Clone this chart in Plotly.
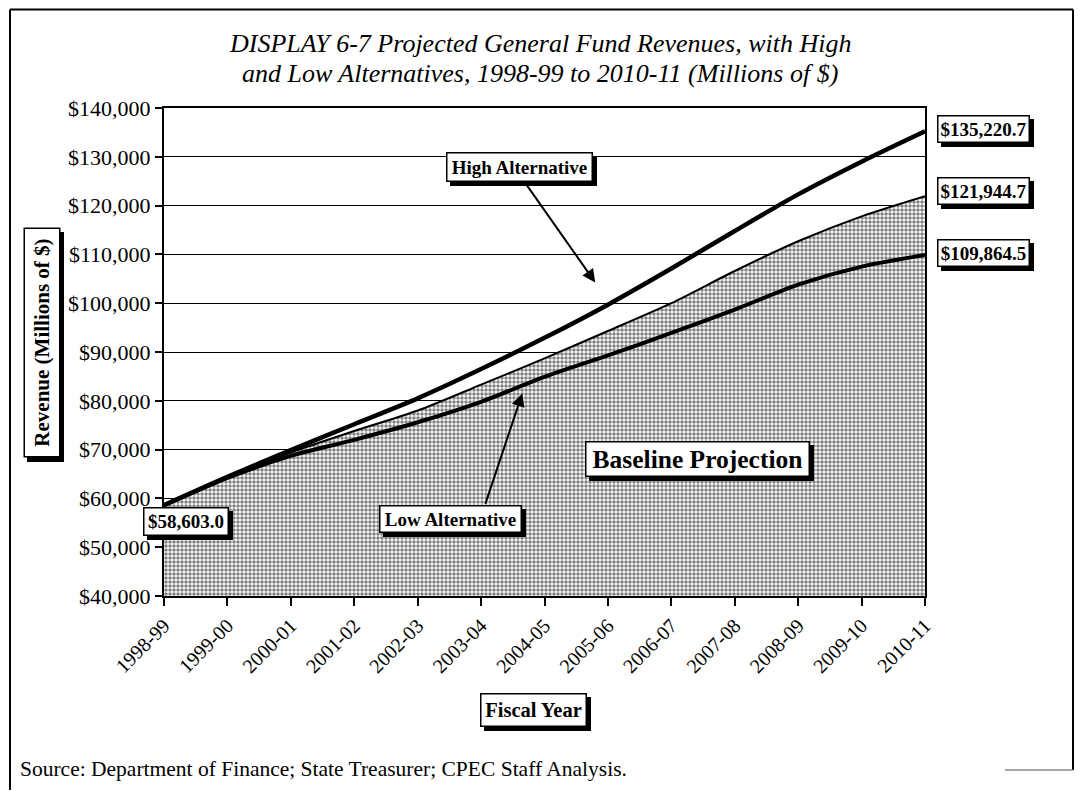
import plotly.graph_objects as go

# ---- data ----
fiscal_years = ["1998-99", "1999-00", "2000-01", "2001-02", "2002-03", "2003-04", "2004-05",
                "2005-06", "2006-07", "2007-08", "2008-09", "2009-10", "2010-11"]
high_alt = [58603.0, 64400, 69900, 75200, 80500, 86500, 92900, 99700, 107100, 114800, 122300, 129000, 135220.7]
baseline = [58603.0, 64300, 69400, 73800, 78000, 83300, 88700, 94300, 100000, 106600, 112700, 117800, 121944.7]
low_alt = [58603.0, 64200, 68700, 72000, 75600, 79800, 84900, 89300, 93900, 98700, 103800, 107500, 109864.5]
y_ticks = [40000, 50000, 60000, 70000, 80000, 90000, 100000, 110000, 120000, 130000, 140000]
y_tick_text = ["$%s" % format(v, ",d") for v in y_ticks]

SERIF = "Liberation Serif, Times New Roman, serif"

# page layout (page pixels); the html body adds an 8px offset
OFF = 8
W, H = 1083, 793
PL, PR, PT, PB = 164, 925, 108, 596   # plot area in page pixels


def px(x):
    return (x - PL) / (PR - PL)


def py(y):
    return 1 - (y - PT) / (PB - PT)


fig = go.Figure()

fig.add_trace(go.Scatter(
    x=fiscal_years, y=baseline, mode="lines", name="Baseline Projection",
    line=dict(color="black", width=2, shape="spline", smoothing=0.8),
    fill="tozeroy", fillcolor="rgba(255,255,255,1)",
    fillpattern=dict(shape=".", fgcolor="#000000", bgcolor="#ffffff", size=4, solidity=0.6),
    showlegend=False))
fig.add_trace(go.Scatter(
    x=fiscal_years, y=high_alt, mode="lines", name="High Alternative",
    line=dict(color="black", width=4.5, shape="spline", smoothing=0.8), showlegend=False))
fig.add_trace(go.Scatter(
    x=fiscal_years, y=low_alt, mode="lines", name="Low Alternative",
    line=dict(color="black", width=4, shape="spline", smoothing=0.8), showlegend=False))

annotations = []
shapes = []


def boxed(text, x0, x1, y0, y1, size, angle=0):
    # shadow
    shapes.append(dict(type="rect", xref="paper", yref="paper",
                       x0=px(x0 + 4), x1=px(x1 + 4), y0=py(y0 + 4), y1=py(y1 + 4),
                       fillcolor="black", line=dict(width=0), layer="above"))
    bw, bh = x1 - x0, y1 - y0
    if angle:
        w, h = bh, bw
    else:
        w, h = bw, bh
    annotations.append(dict(text="<b>%s</b>" % text, x=px((x0 + x1) / 2), y=py((y0 + y1) / 2),
                            xref="paper", yref="paper", showarrow=False, textangle=angle,
                            xanchor="center", yanchor="middle", width=w - 5, height=h - 5,
                            align="center", valign="middle", borderpad=1, borderwidth=1.5,
                            bgcolor="white", bordercolor="black",
                            font=dict(family=SERIF, size=size, color="black")))


# title
annotations.append(dict(text="<i>DISPLAY 6-7 Projected General Fund Revenues, with High</i>",
                        x=px(540), y=py(43), xref="paper", yref="paper", showarrow=False,
                        xanchor="center", yanchor="middle",
                        font=dict(family=SERIF, size=26, color="black")))
annotations.append(dict(text="<i>and Low Alternatives, 1998-99 to 2010-11 (Millions of $)</i>",
                        x=px(540), y=py(74), xref="paper", yref="paper", showarrow=False,
                        xanchor="center", yanchor="middle",
                        font=dict(family=SERIF, size=26, color="black")))

# arrows
annotations.append(dict(x=6.80, y=104260, ax=5.69, ay=124750, xref="x", yref="y", axref="x", ayref="y",
                        text="", showarrow=True, arrowhead=2, arrowsize=1.3, arrowwidth=2, arrowcolor="black"))
annotations.append(dict(x=5.65, y=81520, ax=5.06, ay=58570, xref="x", yref="y", axref="x", ayref="y",
                        text="", showarrow=True, arrowhead=2, arrowsize=1.3, arrowwidth=2, arrowcolor="black"))

boxed("Revenue (Millions of $)", 23, 60, 228, 458, 21, angle=-90)
boxed("Fiscal Year", 480, 587, 693, 727, 20.5)
boxed("$135,220.7", 937, 1030, 115, 143, 19)
boxed("$121,944.7", 937, 1030, 177, 205, 19)
boxed("$109,864.5", 937, 1030, 239, 267, 19)
boxed("$58,603.0", 143, 229, 507, 536, 19)
boxed("High Alternative", 446, 593, 152, 182, 19)
boxed("Low Alternative", 379, 522, 505, 533, 19)
boxed("Baseline Projection", 585, 810, 441, 477, 25.5)

annotations.append(dict(text="Source: Department of Finance; State Treasurer; CPEC Staff Analysis.",
                        x=px(18), y=py(769), xref="paper", yref="paper", showarrow=False,
                        xanchor="left", yanchor="middle",
                        font=dict(family=SERIF, size=21.5, color="black")))

# outer frame
shapes += [
    dict(type="line", xref="paper", yref="paper", x0=px(10), x1=px(1073), y0=py(9.5), y1=py(9.5),
         line=dict(color="black", width=2)),
    dict(type="line", xref="paper", yref="paper", x0=px(10), x1=px(10), y0=py(9.5), y1=py(790),
         line=dict(color="black", width=2)),
    dict(type="line", xref="paper", yref="paper", x0=px(1073), x1=px(1073), y0=py(9.5), y1=py(770),
         line=dict(color="black", width=2)),
    dict(type="line", xref="paper", yref="paper", x0=px(1005), x1=px(1073), y0=py(770), y1=py(770),
         line=dict(color="#888888", width=1.5)),
]

fig.update_layout(
    width=W, height=H,
    margin=dict(l=PL - OFF, r=W - (PR - OFF), t=PT - OFF, b=H - (PB - OFF), pad=0),
    paper_bgcolor="white", plot_bgcolor="white",
    font=dict(family=SERIF, color="black"),
    annotations=annotations, shapes=shapes,
    xaxis=dict(type="category", range=[0, 12], showgrid=False, showline=True, linecolor="black",
               linewidth=2, mirror=True, ticks="outside", ticklen=8, tickwidth=1.5, tickcolor="black",
               tickangle=-45, tickfont=dict(family=SERIF, size=20, color="black"), zeroline=False),
    yaxis=dict(range=[40000, 140000], tickvals=y_ticks, ticktext=y_tick_text,
               showgrid=True, gridcolor="black", gridwidth=1, showline=True, linecolor="black",
               linewidth=2, mirror=True, ticks="outside", ticklen=7, tickwidth=1.5, tickcolor="black",
               tickfont=dict(family=SERIF, size=22, color="black"), zeroline=False),
)

fig.write_html("out.html")
